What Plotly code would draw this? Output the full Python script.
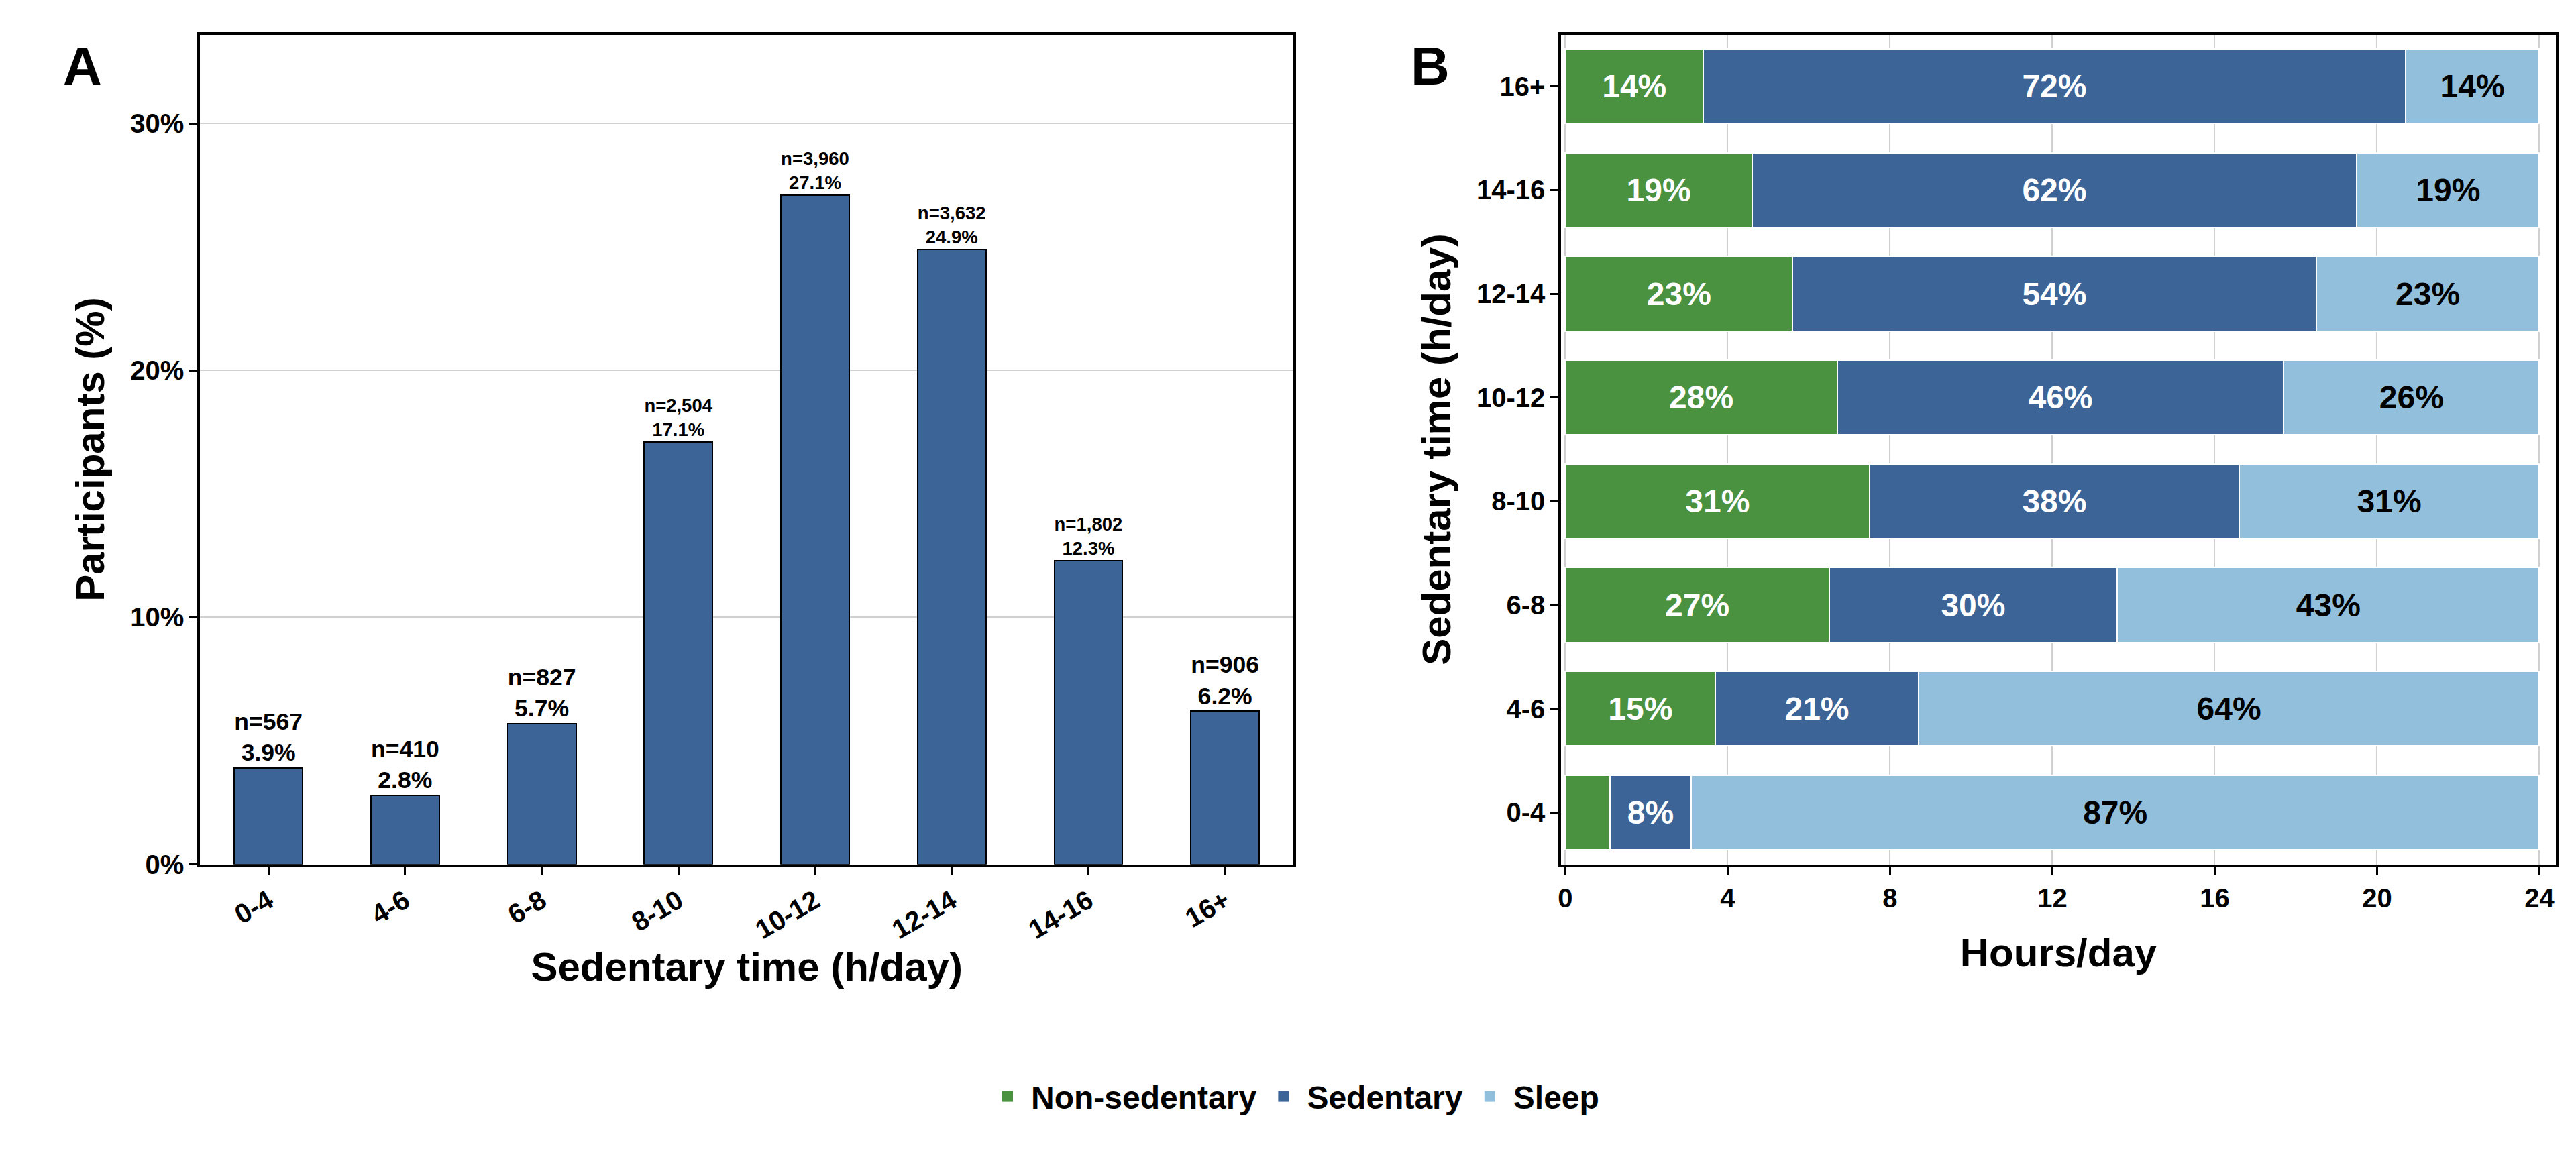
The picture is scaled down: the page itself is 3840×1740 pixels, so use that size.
import plotly.graph_objects as go

# Panel A data
groups = ["0-4", "4-6", "6-8", "8-10", "10-12", "12-14", "14-16", "16+"]
participants_pct = [3.9, 2.8, 5.7, 17.1, 27.1, 24.9, 12.3, 6.2]
participants_n = ["567", "410", "827", "2,504", "3,960", "3,632", "1,802", "906"]

# Panel B data (hours/day per category)
nonsed_hours = [1.1, 3.7, 6.5, 7.5, 6.7, 5.6, 4.6, 3.4]
sed_hours = [2.0, 5.0, 7.1, 9.1, 11.0, 12.9, 14.9, 17.3]
sleep_hours = [20.9, 15.3, 10.4, 7.4, 6.3, 5.5, 4.5, 3.3]
nonsed_label = ["", "15%", "27%", "31%", "28%", "23%", "19%", "14%"]
sed_label = ["8%", "21%", "30%", "38%", "46%", "54%", "62%", "72%"]
sleep_label = ["87%", "64%", "43%", "31%", "26%", "23%", "19%", "14%"]

GREEN = "#4a9140"
BLUE = "#3d6496"
LIGHT = "#91bfdc"
FONT = "Liberation Sans"

fig = go.Figure()

# A: distribution of participants
fig.add_trace(go.Bar(
    x=groups, y=participants_pct, width=0.5,
    marker=dict(color=BLUE, line=dict(color="black", width=2)),
    customdata=participants_n,
    texttemplate="<b>n=%{customdata}<br>%{y:.1f}%</b>",
    textposition="outside", textfont=dict(size=46, color="black", family=FONT),
    cliponaxis=False, showlegend=False, xaxis="x", yaxis="y",
))

# B: composition of the day
for name, vals, labels, color, tcol in [
    ("Non-sedentary", nonsed_hours, nonsed_label, GREEN, "white"),
    ("Sedentary", sed_hours, sed_label, BLUE, "white"),
    ("Sleep", sleep_hours, sleep_label, LIGHT, "black"),
]:
    fig.add_trace(go.Bar(
        y=groups, x=vals, orientation="h", name=name, width=0.72,
        marker=dict(color=color, line=dict(color="white", width=2)),
        text=[f"<b>{t}</b>" if t else "" for t in labels],
        textposition="inside", insidetextanchor="middle", textangle=0,
        textfont=dict(size=48, color=tcol, family=FONT),
        xaxis="x2", yaxis="y2", showlegend=False,
    ))
    # legend entry with a large square swatch
    fig.add_trace(go.Scatter(
        x=[None], y=[None], mode="markers", name=name,
        marker=dict(symbol="square", size=60, color=color),
        xaxis="x2", yaxis="y2",
    ))

axis_common = dict(
    showline=True, linecolor="black", linewidth=4, mirror=True,
    ticks="outside", ticklen=12, tickwidth=3, tickcolor="black",
    tickfont=dict(size=40, family=FONT, color="black", weight="bold"),
    zeroline=False, automargin=False,
)
title_font = dict(size=60, family=FONT, color="black", weight="bold")

fig.update_layout(
    width=3840, height=1740, barmode="stack",
    plot_bgcolor="white", paper_bgcolor="white",
    margin=dict(l=0, r=0, t=0, b=0),
    font=dict(family=FONT),
    xaxis=dict(domain=[0.0756, 0.5], type="category", tickangle=-30, showgrid=False,
               title=dict(text="Sedentary time (h/day)", font=title_font, standoff=10),
               **axis_common),
    yaxis=dict(domain=[0.264, 0.975], range=[0, 33.6], tickvals=[0, 10, 20, 30],
               ticktext=["0%", "10%", "20%", "30%"], showgrid=True,
               gridcolor="#d0d0d0", gridwidth=2,
               title=dict(text="Participants (%)", font=title_font, standoff=20),
               **axis_common),
    xaxis2=dict(domain=[0.604, 0.99], anchor="y2", range=[-0.1, 24.4],
                tickvals=[0, 4, 8, 12, 16, 20, 24], showgrid=True,
                gridcolor="#d0d0d0", gridwidth=2,
                title=dict(text="Hours/day", font=title_font, standoff=40),
                **axis_common),
    yaxis2=dict(domain=[0.264, 0.975], anchor="x2", type="category", showgrid=False,
                categoryorder="array", categoryarray=groups,
                title=dict(text="Sedentary time (h/day)", font=title_font, standoff=20),
                **axis_common),
    legend=dict(orientation="h", x=0.5, xanchor="center", y=0.065, yanchor="middle",
                font=dict(size=48, family=FONT, color="black", weight="bold"),
                itemwidth=60, traceorder="normal"),
    annotations=[
        dict(text="<b>A</b>", x=0.022, y=0.975, xref="paper", yref="paper",
             showarrow=False, font=dict(size=80, family=FONT, color="black")),
        dict(text="<b>B</b>", x=0.553, y=0.975, xref="paper", yref="paper",
             showarrow=False, font=dict(size=80, family=FONT, color="black")),
    ],
)

fig.write_html("out.html")
